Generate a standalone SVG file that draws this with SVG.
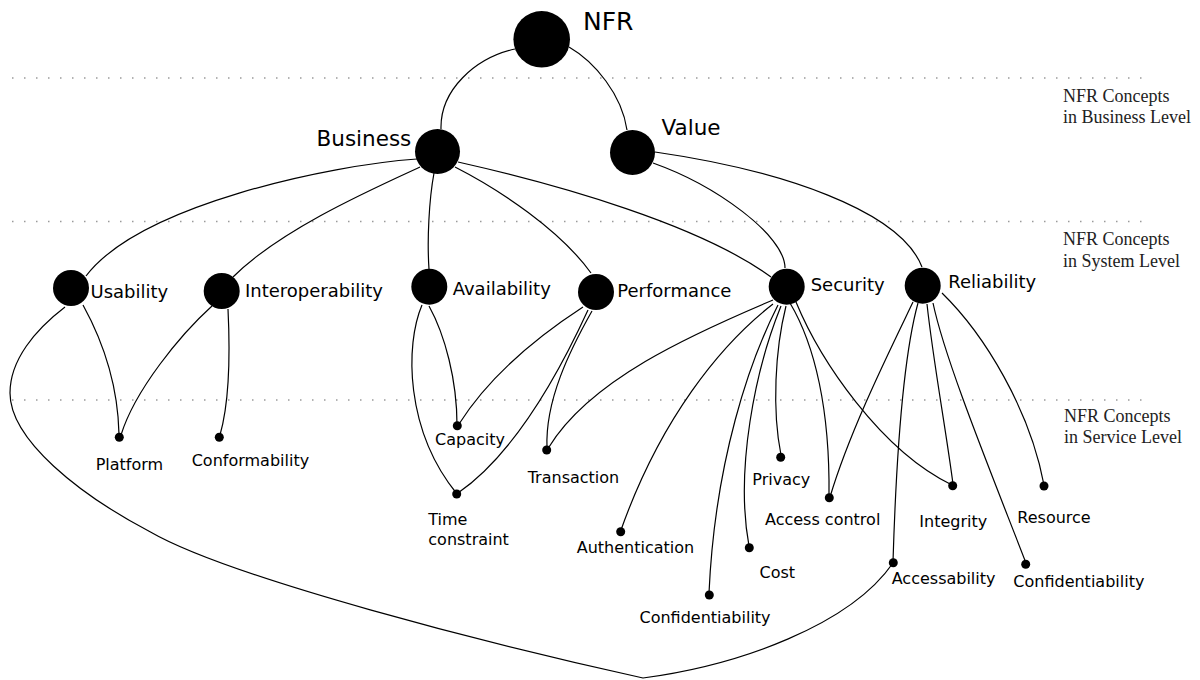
<svg xmlns="http://www.w3.org/2000/svg" width="1200" height="680" viewBox="0 0 1200 680">
<style>
.bg{fill:#fff}
.lvl{stroke:#9a9a9a;stroke-width:1.5;stroke-dasharray:1.5 10.5;fill:none}
.cap{font-family:"Liberation Serif",serif;font-size:18px;fill:#222}
.e{fill:none;stroke:#000;stroke-width:1.2}
.n{fill:#000}
.t{font-family:"DejaVu Sans",sans-serif;fill:#000}
.t1{font-size:25px}
.t2{font-size:21.5px}
.t3{font-size:18px}
.t4{font-size:16px}
</style>
<rect class="bg" x="0" y="0" width="1200" height="680"/>
<g id="levels">
<line class="lvl" x1="12" y1="78" x2="1145" y2="78"/>
<line class="lvl" x1="12" y1="221.5" x2="1145" y2="221.5"/>
<line class="lvl" x1="12" y1="400" x2="1145" y2="400"/>
<text class="cap" x="1063" y="101.5">NFR Concepts</text>
<text class="cap" x="1063" y="123.3">in Business Level</text>
<text class="cap" x="1063" y="245">NFR Concepts</text>
<text class="cap" x="1063" y="266.7">in System Level</text>
<text class="cap" x="1064" y="421.7">NFR Concepts</text>
<text class="cap" x="1064" y="443.3">in Service Level</text>
</g>
<g id="connectors">
<path class="e" d="M515,49 C475,58 440,90 441,129"/>
<path class="e" d="M569,47 C595,62 622,95 627,130"/>
<path class="e" d="M417,159 C330,165 140,205 86,276"/>
<path class="e" d="M420,167 C370,190 280,230 233,277"/>
<path class="e" d="M434,173 C429,200 427,240 429,269"/>
<path class="e" d="M455,167 C500,190 560,230 591,273"/>
<path class="e" d="M458,162 C560,185 700,225 771,277"/>
<path class="e" d="M653,163 C715,185 785,235 785,268"/>
<path class="e" d="M655,152 C780,170 900,210 922,267"/>
<path class="e" d="M83,305 C105,345 118,390 119,434"/>
<path class="e" d="M65,307 C35,330 10,360 10,393 C10,440 80,495 150,531.7 C230,578 493,645 643,678 C740,665 850,625 893,563"/>
<path class="e" d="M212,306 C180,335 135,390 121,435"/>
<path class="e" d="M228,309 C230,350 230,400 220,435"/>
<path class="e" d="M429,306 C445,335 457,380 457,425"/>
<path class="e" d="M422,305 C405,345 405,430 457,494"/>
<path class="e" d="M583,307 C540,335 490,375 459,424"/>
<path class="e" d="M588,310 C565,360 520,450 458,493"/>
<path class="e" d="M592,311 C570,350 545,400 547,448"/>
<path class="e" d="M773,300 C690,335 590,380 549,447"/>
<path class="e" d="M773,304 C720,345 660,420 621,530"/>
<path class="e" d="M778,305 C750,360 715,460 709,593"/>
<path class="e" d="M781,306 C755,370 735,470 749,546"/>
<path class="e" d="M786,306 C775,350 772,410 781,455"/>
<path class="e" d="M790,303 C815,345 830,410 829,496"/>
<path class="e" d="M796,302 C820,360 880,450 952,485"/>
<path class="e" d="M913,302 C890,350 850,430 830,497"/>
<path class="e" d="M918,303 C905,350 897,430 893,562"/>
<path class="e" d="M927,304 C933,360 946,430 953,484"/>
<path class="e" d="M933,303 C945,360 990,470 1026,563"/>
<path class="e" d="M942,293 C985,335 1030,410 1044,485"/>
</g>
<g id="nfr"><circle class="n" cx="541.7" cy="39.3" r="28.3"/><text class="t t1" x="583" y="30">NFR</text></g>
<g id="business"><circle class="n" cx="437.5" cy="151.5" r="22.5"/><text class="t t2" x="316.5" y="145.5">Business</text></g>
<g id="value"><circle class="n" cx="632.5" cy="152.5" r="22.5"/><text class="t t2" x="661.5" y="135">Value</text></g>
<g id="usability"><circle class="n" cx="71" cy="288" r="18"/><text class="t t3" x="90.5" y="297.5">Usability</text></g>
<g id="interoperability"><circle class="n" cx="221.7" cy="291" r="18"/><text class="t t3" x="245" y="296.5">Interoperability</text></g>
<g id="availability"><circle class="n" cx="429.3" cy="286.7" r="18"/><text class="t t3" x="452.7" y="295">Availability</text></g>
<g id="performance"><circle class="n" cx="596" cy="292" r="18"/><text class="t t3" x="617.3" y="296.7">Performance</text></g>
<g id="security"><circle class="n" cx="786.7" cy="286.7" r="18"/><text class="t t3" x="810.7" y="290.7">Security</text></g>
<g id="reliability"><circle class="n" cx="922.7" cy="285.7" r="18"/><text class="t t3" x="948.3" y="287.7">Reliability</text></g>
<g id="platform"><circle class="n" cx="119.3" cy="437.3" r="4.5"/><text class="t t4" x="95.7" y="470">Platform</text></g>
<g id="conformability"><circle class="n" cx="219.3" cy="437.3" r="4.5"/><text class="t t4" x="191.7" y="466">Conformability</text></g>
<g id="capacity"><circle class="n" cx="457.3" cy="425.7" r="4.5"/><text class="t t4" x="435" y="445">Capacity</text></g>
<g id="transaction"><circle class="n" cx="546.7" cy="450" r="4.5"/><text class="t t4" x="527.7" y="483.3">Transaction</text></g>
<g id="time-constraint"><circle class="n" cx="456.7" cy="494" r="4.5"/><text class="t t4" x="428.3" y="525">Time</text><text class="t t4" x="428.3" y="545">constraint</text></g>
<g id="authentication"><circle class="n" cx="620.7" cy="531.7" r="4.5"/><text class="t t4" x="576.7" y="553.3">Authentication</text></g>
<g id="confidentiability-security"><circle class="n" cx="709.3" cy="595" r="4.5"/><text class="t t4" x="639.5" y="622.7">Confidentiability</text></g>
<g id="cost"><circle class="n" cx="749.3" cy="547.7" r="4.5"/><text class="t t4" x="759.5" y="577.5">Cost</text></g>
<g id="privacy"><circle class="n" cx="780.7" cy="457.3" r="4.5"/><text class="t t4" x="752.3" y="485">Privacy</text></g>
<g id="access-control"><circle class="n" cx="829.3" cy="497.7" r="4.5"/><text class="t t4" x="765" y="525">Access control</text></g>
<g id="integrity"><circle class="n" cx="952.7" cy="485.7" r="4.5"/><text class="t t4" x="919.3" y="526.7">Integrity</text></g>
<g id="resource"><circle class="n" cx="1044" cy="486" r="4.5"/><text class="t t4" x="1017.3" y="523.3">Resource</text></g>
<g id="accessability"><circle class="n" cx="893.3" cy="562.7" r="4.5"/><text class="t t4" x="891.7" y="584.3">Accessability</text></g>
<g id="confidentiability-reliability"><circle class="n" cx="1025.7" cy="564.3" r="4.5"/><text class="t t4" x="1013.3" y="586.7">Confidentiability</text></g>
</svg>
